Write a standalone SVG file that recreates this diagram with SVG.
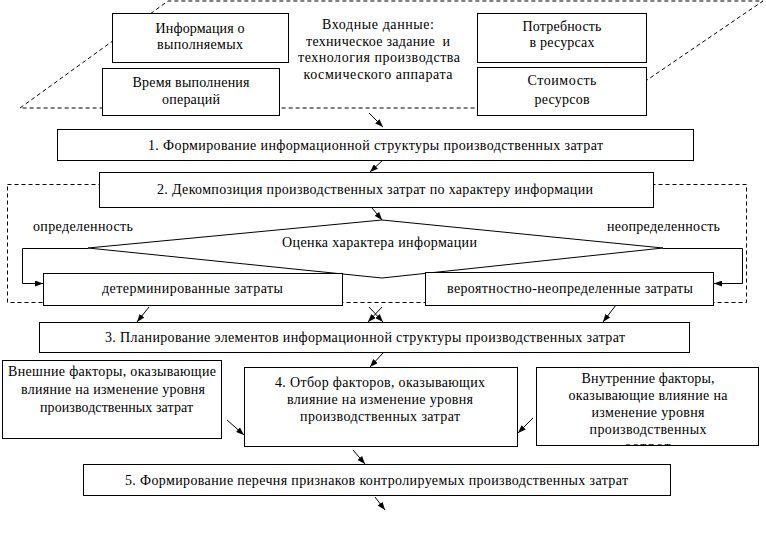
<svg xmlns="http://www.w3.org/2000/svg" width="766" height="553" viewBox="0 0 766 553">
<style>
.box{fill:#fff;stroke:#000;stroke-width:1}
.dash{fill:none;stroke:#000;stroke-width:1;stroke-dasharray:4,3}
.ln{fill:none;stroke:#000;stroke-width:1}
text{font-family:"Liberation Serif","Times New Roman","DejaVu Serif",serif;font-size:14px;fill:#000;text-anchor:middle}
.pre{white-space:pre}
</style>
<defs>
<marker id="ah" viewBox="0 0 8 6" refX="8" refY="3" markerWidth="8" markerHeight="6" markerUnits="userSpaceOnUse" orient="auto">
<path d="M0,0 L8,3 L0,6 z" fill="#000"/>
</marker>
<clipPath id="clipInt"><rect x="537" y="368" width="221" height="77"/></clipPath>
</defs>
<rect width="766" height="553" fill="#fff"/>

<g id="input-frame">
<path class="dash" d="M20,108 L168,1 L763,1 L606,108 Z"/>
</g>
<g id="decomp-frame">
<rect class="dash" x="7.5" y="184.5" width="739" height="118"/>
</g>

<g id="input-data">
<text x="378" y="29" textLength="112">Входные данные:</text>
<text class="pre" x="378" y="46" textLength="144">техническое задание  и</text>
<text x="379" y="62" textLength="162">технология производства</text>
<text x="378" y="79" textLength="149">космического аппарата</text>
</g>

<g id="info">
<rect class="box" x="112.5" y="13.5" width="176" height="49"/>
<text x="200" y="33" textLength="89">Информация о</text>
<text x="200" y="49" textLength="86">выполняемых</text>
</g>
<g id="time">
<rect class="box" x="102.5" y="68.5" width="177" height="47"/>
<text x="191" y="87" textLength="117">Время выполнения</text>
<text x="191" y="104" textLength="58">операций</text>
</g>
<g id="need">
<rect class="box" x="477.5" y="13.5" width="169" height="49"/>
<text x="562" y="31" textLength="79">Потребность</text>
<text x="562" y="47" textLength="65">в ресурсах</text>
</g>
<g id="cost">
<rect class="box" x="477.5" y="67.5" width="169" height="48"/>
<text x="562" y="85" textLength="69">Стоимость</text>
<text x="562" y="104" textLength="55">ресурсов</text>
</g>

<g id="step1">
<rect class="box" x="57.5" y="129.5" width="636" height="31"/>
<text x="375.5" y="150" textLength="455">1. Формирование информационной структуры производственных затрат</text>
</g>
<g id="step2">
<rect class="box" x="99.5" y="172.5" width="554" height="35"/>
<text x="375" y="194" textLength="436">2. Декомпозиция производственных затрат по характеру информации</text>
</g>
<g id="evaluate">
<path class="ln" d="M382,220 L663,248 L382,278 L88,248 Z"/>
<text x="379.5" y="247" textLength="195">Оценка характера информации</text>
</g>
<g id="label-cert">
<text x="83" y="231" textLength="100">определенность</text>
</g>
<g id="label-uncert">
<text x="663.5" y="231" textLength="113">неопределенность</text>
</g>
<g id="determ">
<rect class="box" x="43.5" y="273.5" width="299" height="32"/>
<text x="192.5" y="293" textLength="181">детерминированные затраты</text>
</g>
<g id="prob">
<rect class="box" x="425.5" y="272.5" width="288" height="33"/>
<text x="570" y="293" textLength="246">вероятностно-неопределенные затраты</text>
</g>
<g id="step3">
<rect class="box" x="39.5" y="322.5" width="650" height="30"/>
<text x="365" y="342" textLength="520">3. Планирование элементов информационной структуры производственных затрат</text>
</g>
<g id="external">
<rect class="box" x="2.5" y="360.5" width="219" height="78"/>
<text x="112" y="376" textLength="208">Внешние факторы, оказывающие</text>
<text x="113" y="394" textLength="184">влияние на изменение уровня</text>
<text x="116.5" y="412" textLength="153">производственных затрат</text>
</g>
<g id="step4">
<rect class="box" x="244.5" y="367.5" width="273" height="79"/>
<text x="380" y="387" textLength="210">4. Отбор факторов, оказывающих</text>
<text x="380" y="404" textLength="186">влияние на изменение уровня</text>
<text x="380" y="421" textLength="160">производственных затрат</text>
</g>
<g id="internal">
<rect class="box" x="536.5" y="367.5" width="222" height="78"/>
<g clip-path="url(#clipInt)">
<text x="648" y="383" textLength="133">Внутренние факторы,</text>
<text x="648" y="400" textLength="159">оказывающие влияние на</text>
<text x="648" y="417" textLength="113">изменение уровня</text>
<text x="648" y="434" textLength="117">производственных</text>
<text x="648" y="451" textLength="45">затрат</text>
</g>
</g>
<g id="step5">
<rect class="box" x="83.5" y="464.5" width="587" height="31"/>
<text x="376.5" y="485" textLength="503">5. Формирование перечня признаков контролируемых производственных затрат</text>
</g>

<g id="connectors">
<line class="ln" x1="369" y1="113" x2="383" y2="127" marker-end="url(#ah)"/>
<line class="ln" x1="383" y1="160" x2="370" y2="172" marker-end="url(#ah)"/>
<line class="ln" x1="372" y1="208" x2="382" y2="220" marker-end="url(#ah)"/>
<polyline class="ln" points="88,248.5 22.5,248.5 22.5,283.5 43,283.5" marker-end="url(#ah)"/>
<polyline class="ln" points="663,248.5 742.5,248.5 742.5,283.5 714,283.5" marker-end="url(#ah)"/>
<line class="ln" x1="149" y1="307" x2="137" y2="322" marker-end="url(#ah)"/>
<line class="ln" x1="369" y1="307" x2="383" y2="322" marker-end="url(#ah)"/>
<line class="ln" x1="382" y1="307" x2="368" y2="322" marker-end="url(#ah)"/>
<line class="ln" x1="616" y1="305" x2="603" y2="322" marker-end="url(#ah)"/>
<line class="ln" x1="383" y1="353" x2="370" y2="367" marker-end="url(#ah)"/>
<line class="ln" x1="227" y1="420" x2="244" y2="435" marker-end="url(#ah)"/>
<line class="ln" x1="533" y1="418" x2="518" y2="433" marker-end="url(#ah)"/>
<line class="ln" x1="353" y1="450" x2="365" y2="464" marker-end="url(#ah)"/>
<line class="ln" x1="375" y1="497" x2="385" y2="510" marker-end="url(#ah)"/>
</g>
</svg>
